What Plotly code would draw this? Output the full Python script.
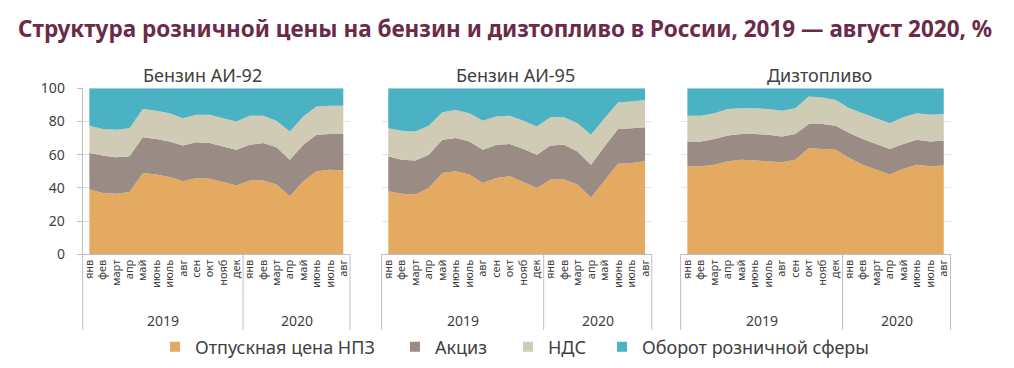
import plotly.graph_objects as go

# ---------------- data ----------------
months = ["янв", "фев", "март", "апр", "май", "июнь", "июль", "авг", "сен", "окт", "нояб", "дек",
          "янв", "фев", "март", "апр", "май", "июнь", "июль", "авг"]
years = ["2019", "2020"]
n_2019 = 12

series_names = ["Отпускная цена НПЗ", "Акциз", "НДС", "Оборот розничной сферы"]
panel_titles = ["Бензин АИ-92", "Бензин АИ-95", "Дизтопливо"]

ai92_npz = [39, 37, 36.5, 37.5, 49, 48, 46.5, 44, 46, 45.5, 43.5, 41.5, 44.5, 44.5, 42, 35, 44, 50, 51, 50.5]
ai92_excise = [22, 22.5, 22, 21.5, 21.5, 21.5, 21.5, 21.5, 21.5, 21.5, 21.5, 21.5, 21.5, 22.5, 22.5, 22, 22, 22, 21.5, 22]
ai92_vat = [16.5, 16, 16.5, 17, 17, 17, 17, 16.5, 16.5, 17, 17, 17, 17.5, 16.5, 16, 17, 17, 17, 17, 17]
ai92_retail = [22.5, 24.5, 25, 24, 12.5, 13.5, 15, 18, 16, 16, 18, 20, 16.5, 16.5, 19.5, 26, 17, 11, 10.5, 10.5]

ai95_npz = [38, 36.5, 36, 40, 49, 50, 48, 43, 46, 47, 43.5, 40, 45, 45, 42, 34, 44.5, 54.5, 55, 56]
ai95_excise = [21, 20.5, 20.5, 20, 20, 20, 20, 20, 20, 19.5, 20, 20, 20.5, 21, 20, 20, 20.5, 21, 21, 20.5]
ai95_vat = [17, 17.5, 17.5, 17.5, 16.5, 17, 17, 17.5, 17, 17, 17, 17, 17, 16.5, 17, 18, 17, 16, 16, 16.5]
ai95_retail = [24, 25.5, 26, 22.5, 14.5, 13, 15, 19.5, 17, 16.5, 19.5, 23, 17.5, 17.5, 21, 28, 18, 8.5, 8, 7]

diesel_npz = [53, 53, 54, 56, 57, 56.5, 56, 55.5, 57, 64, 63.5, 63, 58, 54, 51, 48, 51.5, 54, 53, 53.5]
diesel_excise = [15, 15, 15.5, 15.5, 15.5, 16, 16, 15.5, 15.5, 14.5, 15, 14.5, 15, 15.5, 15.5, 15.5, 15, 15, 15, 15]
diesel_vat = [15.5, 15.5, 15.5, 16, 15.5, 15.5, 15.5, 15.5, 15.5, 16.5, 16, 15.5, 15, 15.5, 15.5, 15.5, 16, 16, 16, 16]
diesel_retail = [16.5, 16.5, 15, 12.5, 12, 12, 12.5, 13.5, 12, 5, 5.5, 7, 12, 15, 18, 21, 17.5, 15, 16, 15.5]

y_ticks = [0, 20, 40, 60, 80, 100]

panels = [
    [ai92_npz, ai92_excise, ai92_vat, ai92_retail],
    [ai95_npz, ai95_excise, ai95_vat, ai95_retail],
    [diesel_npz, diesel_excise, diesel_vat, diesel_retail],
]

# ---------------- styling ----------------
colors = ["#E5AA62", "#9A8C85", "#CFCBB4", "#4AB2C2"]
W, H = 1014, 368
PAGE_OFFSET = 8  # default body margin of the html page
FONT = "Noto Sans"
TXT = "#404040"
GRID = "#e4e4e4"
AXLINE = "#bfbfbf"

panel_px = [(82.7, 350.0), (381.5, 651.8), (680.6, 950.5)]
y_top_px, y_bot_px = 88.3, 254.3
title_centers_px = [202, 515, 819]

def px_x(v):
    return (v - PAGE_OFFSET) / W

def px_y(v):
    return 1 - (v - PAGE_OFFSET) / H

xs = list(range(len(months)))
fig = go.Figure()

for p, comps in enumerate(panels):
    k = "" if p == 0 else str(p + 1)
    for s, vals in enumerate(comps):
        fig.add_trace(go.Scatter(
            x=xs, y=vals, mode="lines", stackgroup="g%d" % p,
            line=dict(width=0, color=colors[s]), fillcolor=colors[s],
            name=series_names[s], showlegend=False,
            xaxis="x" + k, yaxis="y" + k,
        ))

# legend-only entries, one legend each to match spacing
legend_left_px = [155, 395, 508, 602]
legend_names = ["legend", "legend2", "legend3", "legend4"]
for s in range(4):
    fig.add_trace(go.Scatter(
        x=[None], y=[None], mode="markers",
        marker=dict(symbol="square", size=10, color=colors[s]),
        name=series_names[s], showlegend=True, legend=legend_names[s],
    ))

layout = dict(
    width=W, height=H,
    margin=dict(l=0, r=0, t=0, b=0, pad=0, autoexpand=False),
    paper_bgcolor="white", plot_bgcolor="white",
    font=dict(family=FONT, color=TXT),
    hovermode=False,
)

for i, ln in enumerate(legend_names):
    layout[ln] = dict(
        x=px_x(legend_left_px[i]), xanchor="left",
        y=px_y(347), yanchor="middle",
        orientation="h", bgcolor="rgba(0,0,0,0)", borderwidth=0,
        font=dict(family=FONT, size=18, color=TXT),
        itemwidth=30,
    )

for p in range(3):
    k = "" if p == 0 else str(p + 1)
    x0, x1 = panel_px[p]
    layout["xaxis" + k] = dict(
        domain=[px_x(x0), px_x(x1)], anchor="y" + k,
        range=[-0.5, len(months) - 0.5],
        tickmode="array", tickvals=xs, ticktext=months, tickangle=-90,
        tickfont=dict(family=FONT, size=11, color=TXT),
        showgrid=False, zeroline=False, automargin=False,
        showline=True, linecolor=AXLINE, linewidth=1,
        ticks="", fixedrange=True,
    )
    layout["yaxis" + k] = dict(
        domain=[px_y(y_bot_px), px_y(y_top_px)], anchor="x" + k,
        range=[0, 100], tickvals=y_ticks,
        showgrid=True, gridcolor=GRID, gridwidth=1, zeroline=False,
        showticklabels=(p == 0), automargin=False,
        tickfont=dict(family=FONT, size=14, color=TXT),
        showline=(p == 0), linecolor=AXLINE, linewidth=1,
        ticks="outside" if p == 0 else "", ticklen=5, tickcolor=AXLINE,
        ticklabelstandoff=9,
        fixedrange=True,
    )

fig.update_layout(**layout)

# dividers of the category axis
div_frac = n_2019 / len(months)
for p in range(3):
    k = "" if p == 0 else str(p + 1)
    for xf in [0, div_frac, 1]:
        fig.add_shape(type="line", xref="x%s domain" % k, yref="y%s domain" % k,
                      x0=xf, x1=xf, y0=0, y1=-0.455,
                      line=dict(color=AXLINE, width=1))
    # year labels
    for yi, yr in enumerate(years):
        xc = (n_2019 - 1) / 2 if yi == 0 else (n_2019 + len(months) - 1) / 2
        fig.add_annotation(text=yr, xref="x" + k, yref="y%s domain" % k,
                           x=xc, y=-0.396, showarrow=False,
                           xanchor="center", yanchor="middle",
                           font=dict(family=FONT, size=14, color=TXT))
    # panel titles
    fig.add_annotation(text=panel_titles[p], xref="paper", yref="paper",
                       x=px_x(title_centers_px[p]), y=px_y(75), showarrow=False,
                       xanchor="center", yanchor="middle",
                       font=dict(family=FONT, size=18, color=TXT))

fig.add_annotation(
    text="<b>Структура розничной цены на бензин и дизтопливо в России, 2019 — август 2020, %</b>",
    xref="paper", yref="paper", x=px_x(16), y=px_y(29), showarrow=False,
    xanchor="left", yanchor="middle",
    font=dict(family=FONT, size=22.5, color="#6B2A48"),
)

fig.write_html("out.html")
